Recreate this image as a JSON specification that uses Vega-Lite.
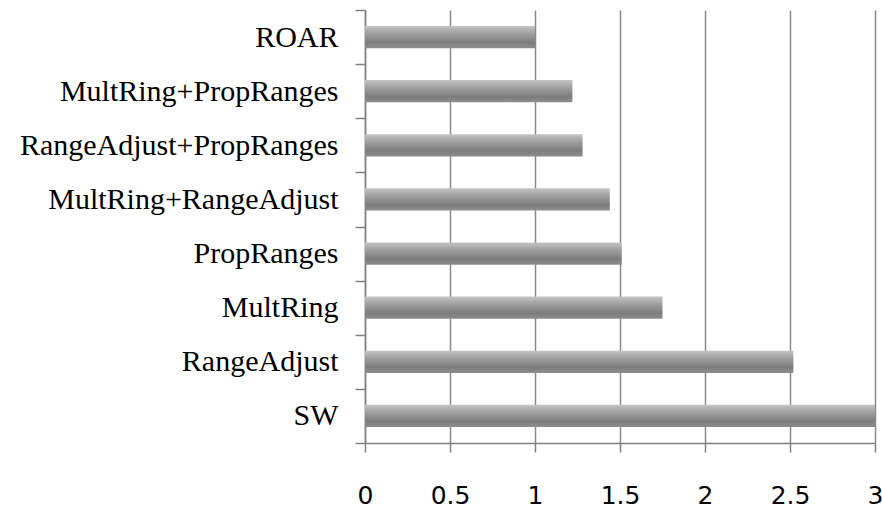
{
  "$schema": "https://vega.github.io/schema/vega-lite/v6.json",
  "width": 510,
  "height": 433,
  "autosize": {"type": "none"},
  "padding": {"left": 365, "top": 10, "right": 7, "bottom": 68},
  "background": "white",
  "data": {"values": [
    {"method": "ROAR", "value": 1.0},
    {"method": "MultRing+PropRanges", "value": 1.22},
    {"method": "RangeAdjust+PropRanges", "value": 1.28},
    {"method": "MultRing+RangeAdjust", "value": 1.44},
    {"method": "PropRanges", "value": 1.51},
    {"method": "MultRing", "value": 1.75},
    {"method": "RangeAdjust", "value": 2.52},
    {"method": "SW", "value": 3.0}
  ]},
  "mark": {
    "type": "bar",
    "height": {"band": 0.41},
    "color": {
      "gradient": "linear",
      "x1": 0, "y1": 0, "x2": 0, "y2": 1,
      "stops": [
        {"offset": 0, "color": "#c4c4c4"},
        {"offset": 0.3, "color": "#a3a3a3"},
        {"offset": 0.75, "color": "#7c7c7c"},
        {"offset": 1, "color": "#8e8e8e"}
      ]
    }
  },
  "encoding": {
    "y": {
      "field": "method",
      "type": "nominal",
      "sort": null,
      "title": null,
      "scale": {"paddingInner": 0, "paddingOuter": 0},
      "axis": {
        "tickBand": "extent",
        "tickSize": 10,
        "tickColor": "#808080",
        "tickWidth": 1.5,
        "domainColor": "#808080",
        "domainWidth": 1.5,
        "labelFont": "Liberation Serif",
        "labelFontSize": 30,
        "labelColor": "#000000",
        "labelPadding": 17,
        "labelLimit": 400,
        "grid": false
      }
    },
    "x": {
      "field": "value",
      "type": "quantitative",
      "title": null,
      "scale": {"domain": [0, 3], "nice": false},
      "axis": {
        "values": [0, 0.5, 1, 1.5, 2, 2.5, 3],
        "labelExpr": "datum.value",
        "grid": true,
        "gridColor": "#8a8a8a",
        "gridWidth": 1.5,
        "gridOpacity": 1,
        "tickSize": 9,
        "tickColor": "#808080",
        "tickWidth": 1.5,
        "domainColor": "#808080",
        "domainWidth": 1.5,
        "labelFont": "DejaVu Sans",
        "labelFontSize": 25,
        "labelColor": "#000000",
        "labelPadding": 31,
        "labelFlush": false
      }
    }
  },
  "config": {"view": {"stroke": null}}
}
